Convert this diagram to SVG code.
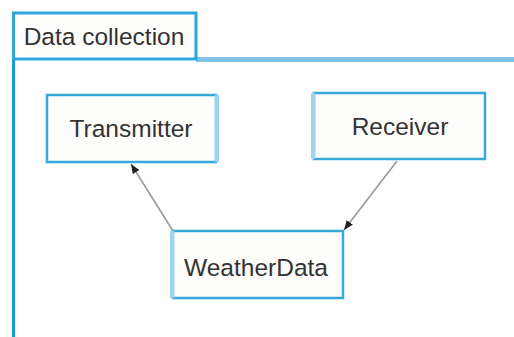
<svg xmlns="http://www.w3.org/2000/svg" width="514" height="337" viewBox="0 0 514 337">
<style>
.node rect{fill:#fdfdfc;stroke:#3aa8db;stroke-width:2.5}
.lbl{font-family:"Liberation Sans",Arial,sans-serif;font-size:24.5px;fill:#333;text-anchor:middle}
.edge{stroke:#9a9a9a;stroke-width:1.6;fill:none;marker-end:url(#ah)}
</style>
<defs>
<marker id="ah" viewBox="0 0 10 10" refX="10" refY="5" markerWidth="6" markerHeight="6" markerUnits="strokeWidth" orient="auto">
<path d="M0,1 L10,5 L0,9 z" fill="#222"/>
</marker>
</defs>
<rect width="514" height="337" fill="#ffffff"/>
<g id="frame">
<line x1="196" y1="59.5" x2="514" y2="59.5" stroke="#7fc4e8" stroke-width="5"/>
<line x1="13.5" y1="12" x2="13.5" y2="337" stroke="#1a9bd7" stroke-width="3"/>
<rect x="13.5" y="13" width="182.5" height="46" fill="#fdfdfc" stroke="#2fa6dd" stroke-width="3"/>
<text class="lbl" x="104" y="45">Data collection</text>
</g>
<g id="transmitter" class="node">
<rect x="47" y="95" width="169" height="67"/>
<line x1="217" y1="95" x2="217" y2="162" stroke="#a0d4ee" stroke-width="4"/>
<text class="lbl" x="131" y="137">Transmitter</text>
</g>
<g id="receiver" class="node">
<rect x="314" y="93" width="171" height="66"/>
<line x1="313" y1="93" x2="313" y2="159" stroke="#a0d4ee" stroke-width="4"/>
<text class="lbl" x="400" y="135">Receiver</text>
</g>
<g id="weatherdata" class="node">
<rect x="173" y="231" width="170" height="67"/>
<line x1="172" y1="231" x2="172" y2="298" stroke="#a0d4ee" stroke-width="4"/>
<text class="lbl" x="256" y="276">WeatherData</text>
</g>
<g id="connectors">
<line class="edge" x1="173" y1="231" x2="131" y2="164"/>
<line class="edge" x1="397" y1="161" x2="344" y2="230"/>
</g>
</svg>
